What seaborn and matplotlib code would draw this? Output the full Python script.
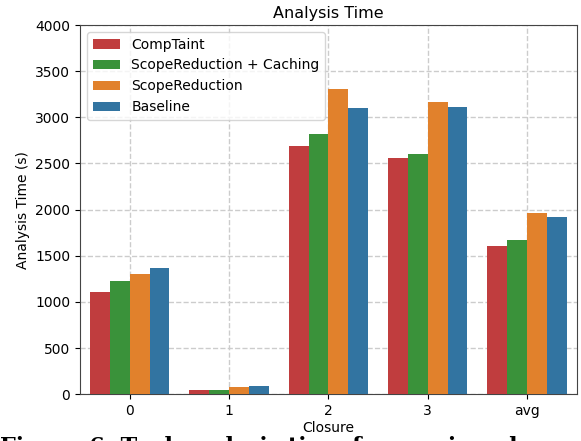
import numpy as np
import pandas as pd
import matplotlib
matplotlib.use("Agg")
import matplotlib.pyplot as plt
import seaborn as sns

# Closure depths on the x-axis
closures = ["0", "1", "2", "3", "avg"]
tools = ["CompTaint", "ScopeReduction + Caching", "ScopeReduction", "Baseline"]

# Analysis time (s) per tool
comptaint = [1108, 47, 2689, 2559, 1607]
scope_caching = [1227, 47, 2819, 2603, 1672]
scope_reduction = [1303, 79, 3307, 3165, 1964]
baseline = [1370, 92, 3101, 3111, 1920]

tool_colors = ["tab:red", "tab:green", "tab:orange", "tab:blue"]

rows = []
for tool, vals in zip(tools, [comptaint, scope_caching, scope_reduction, baseline]):
    for c, v in zip(closures, vals):
        rows.append({"Closure": c, "Tool": tool, "Time": v})
df = pd.DataFrame(rows)

fig = plt.figure(figsize=(5.81, 4.41), dpi=100)
ax = fig.add_axes([0.1377, 0.1059, 0.855, 0.8374])

sns.barplot(data=df, x="Closure", y="Time", hue="Tool", hue_order=tools,
            order=closures, palette=tool_colors, ax=ax, zorder=3)

ax.set_ylim(0, 4000)
ax.set_yticks(np.arange(0, 4001, 500))
ax.grid(True, linestyle="--", color="#cccccc", linewidth=1.0, zorder=0)
ax.set_axisbelow(True)
for sp in ax.spines.values():
    sp.set_color("#444444")
ax.set_title("Analysis Time", fontsize=11.5, pad=5)
ax.set_xlabel("Closure", fontsize=10, labelpad=2)
ax.set_ylabel("Analysis Time (s)", fontsize=10)
ax.tick_params(labelsize=10)
ax.legend(loc="upper left", fontsize=10, framealpha=0.8)

# paper caption running in beneath the plot (cut by the page edge)
fig.text(0.0, -0.027, "Figure 6: Tool analysis time for varying closure depth",
         fontsize=16, fontweight="bold", family="DejaVu Serif",
         ha="left", va="baseline")

fig.savefig("out.png", dpi=100)
